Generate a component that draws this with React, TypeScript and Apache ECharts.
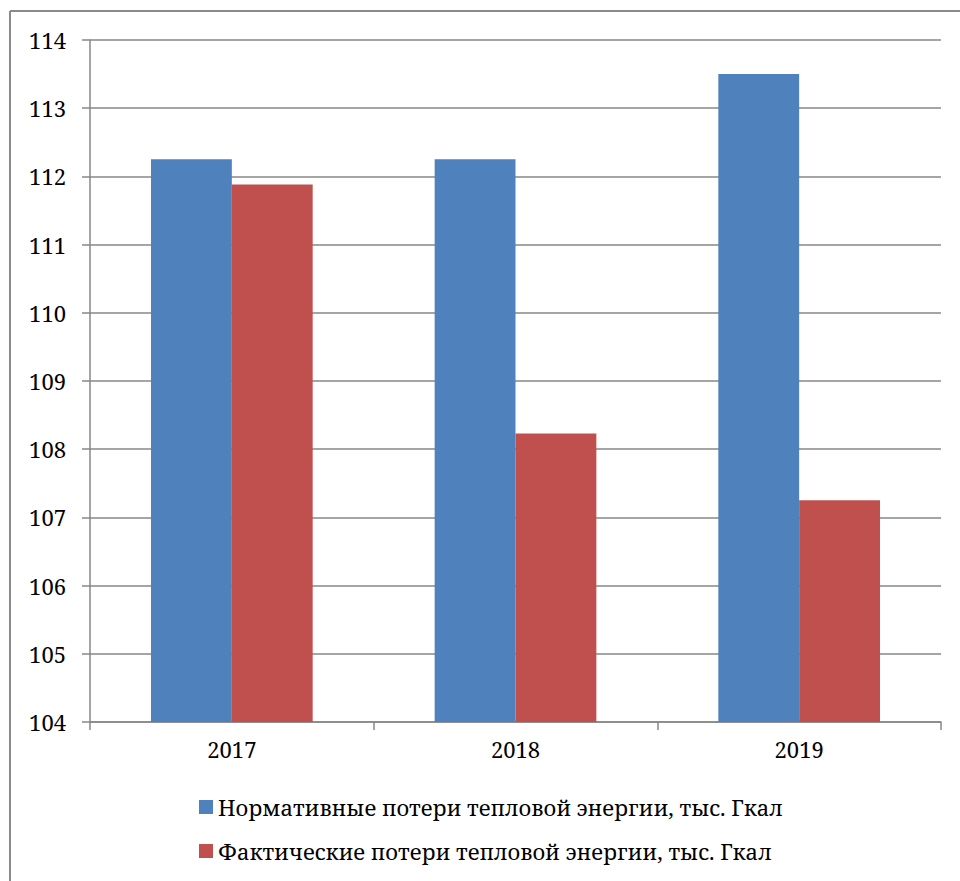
import React, { useEffect, useRef } from "react";
import * as echarts from "echarts";

// Heat-energy losses by year, thousand Gcal
const years = ["2017", "2018", "2019"];
const normativeLosses = [112.25, 112.25, 113.5];
const actualLosses = [111.88, 108.23, 107.25];
const seriesNames = [
  "Нормативные потери тепловой энергии, тыс. Гкал",
  "Фактические потери тепловой энергии, тыс. Гкал",
];

const FONT = "Noto Serif";
const FONT_SIZE = 22;
const GRID_GRAY = "#878787";

const labelText = { fontSize: FONT_SIZE, fontFamily: FONT, color: "#000" };

export default function App() {
  const ref = useRef<HTMLDivElement>(null);

  useEffect(() => {
    if (!ref.current) return;
    const chart = echarts.init(ref.current, undefined, { renderer: "svg" });
    chart.setOption({
      animation: false,
      backgroundColor: "#ffffff",
      textStyle: { fontFamily: FONT },
      grid: { left: 90, right: 19, top: 40, bottom: 159, containLabel: false },
      xAxis: {
        type: "category",
        data: years,
        axisLine: { show: true, lineStyle: { color: GRID_GRAY, width: 1.5 } },
        axisTick: {
          show: true,
          alignWithLabel: false,
          length: 8,
          lineStyle: { color: GRID_GRAY, width: 1.5 },
        },
        axisLabel: {
          margin: 16,
          ...labelText,
          formatter: "{t|{value}}",
          rich: { t: labelText },
        },
      },
      yAxis: {
        type: "value",
        min: 104,
        max: 114,
        interval: 1,
        axisLine: { show: true, lineStyle: { color: GRID_GRAY, width: 1.5 } },
        axisTick: {
          show: true,
          length: 8,
          lineStyle: { color: GRID_GRAY, width: 1.5 },
        },
        splitLine: { show: true, lineStyle: { color: GRID_GRAY, width: 1.5 } },
        axisLabel: {
          margin: 24,
          ...labelText,
          formatter: "{t|{value}}",
          rich: { t: labelText },
        },
      },
      legend: {
        orient: "vertical",
        left: 199,
        top: 796,
        padding: 0,
        itemGap: 22,
        itemWidth: 14,
        itemHeight: 14,
        icon: "rect",
        textStyle: labelText,
        data: seriesNames,
      },
      graphic: [
        {
          type: "line",
          shape: { x1: 10, y1: 11, x2: 10, y2: 881 },
          style: { stroke: "#8a8a8a", lineWidth: 2 },
        },
        {
          type: "line",
          shape: { x1: 10, y1: 11, x2: 960, y2: 11 },
          style: { stroke: "#8a8a8a", lineWidth: 2 },
        },
      ],
      series: [
        {
          name: seriesNames[0],
          type: "bar",
          data: normativeLosses,
          barGap: "0%",
          barCategoryGap: "43%",
          itemStyle: { color: "#4F81BD" },
        },
        {
          name: seriesNames[1],
          type: "bar",
          data: actualLosses,
          barGap: "0%",
          barCategoryGap: "43%",
          itemStyle: { color: "#C0504D" },
        },
      ],
    });
    return () => chart.dispose();
  }, []);

  return (
    <div
      ref={ref}
      style={{ position: "absolute", left: 0, top: 0, width: 960, height: 881 }}
    />
  );
}
